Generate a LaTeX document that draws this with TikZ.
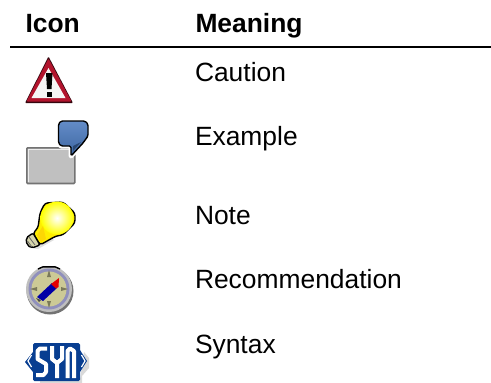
\documentclass[tikz,border=0pt]{standalone}
\usepackage{fontspec}
\setmainfont{Liberation Sans}
\definecolor{cautionred}{RGB}{178,20,45}
\definecolor{bubbleblue}{RGB}{72,120,190}
\definecolor{boxgray}{RGB}{192,192,192}
\definecolor{synblue}{RGB}{8,62,145}
\definecolor{compassface}{RGB}{204,202,150}
\tikzset{
  every node/.style={inner sep=0pt,outer sep=0pt},
  headtext/.style={anchor=base west,font=\fontsize{26.4}{30}\selectfont\bfseries},
  bodytext/.style={anchor=base west,font=\fontsize{26.4}{30}\selectfont},
  synout/.style={draw=synblue,line width=8.4pt,line join=miter,line cap=butt},
  synletter/.style={draw=white,line width=4pt,line join=round,line cap=butt}
}
\newcommand{\synS}{(47,348.5) -- (40,348.5) -- (37.5,351) -- (37.5,359) -- (46,364) -- (46,372) -- (43.5,375) -- (36,375)}
\newcommand{\synY}{(52,346) -- (52,359) -- (57,363) -- (57,378) (62,346) -- (62,359) -- (57,363)}
\newcommand{\synN}{(67.5,378) -- (67.5,351) -- (70,348.5) -- (74,351) -- (74,378)}
\begin{document}
\begin{tikzpicture}[x=1pt,y=-1pt]
\useasboundingbox (0,0) rectangle (491,383);
\fill[white] (0,0) rectangle (491,383);
\node[headtext] (hicon) at (25.5,32) {Icon};
\node[headtext] (hmean) at (195.5,32) {Meaning};
\draw[line width=2pt] (10,47) -- (491,47);
\node[bodytext] (t1) at (195,81) {Caution};
\node[bodytext] (t2) at (195,145) {Example};
\node[bodytext] (t3) at (195,224) {Note};
\node[bodytext] (t4) at (195,288) {Recommendation};
\node[bodytext] (t5) at (195,353) {Syntax};
% caution
\fill[black!70!cautionred,rounded corners=1pt] (48.5,56.5) -- (73,103) -- (25,103) -- cycle;
\fill[cautionred,rounded corners=1pt] (48.5,58.5) -- (71.5,101.5) -- (26.5,101.5) -- cycle;
\fill[white!92!gray] (48.5,68) -- (65.5,98) -- (31.5,98) -- cycle;
\fill[black] (46,73) -- (52.5,73) -- (51.5,89) -- (47,89) -- cycle;
\fill[black] (46.5,92) rectangle (52,97);
% example
\draw[line width=1.6pt,draw=black!55,fill=boxgray,rounded corners=1pt] (26.8,147.8) rectangle (74.8,183.5);
\draw[line width=.8pt,draw=white!85!gray] (28.5,182) -- (28.5,149.5) -- (73,149.5);
\path[draw=white,fill=white,line width=5pt,line join=round] (61,121) -- (85,121) -- (88,124) -- (88,136) -- (83,143) -- (71,156) -- (71,146) -- (61,146) -- (58.5,143) -- (58.5,124) -- cycle;
\draw[black,line width=1.4pt,top color=bubbleblue!85!white,bottom color=bubbleblue!85!black,rounded corners=1.5pt] (61,121) -- (85,121) -- (88,124) -- (88,136) -- (83,143) -- (71,156) -- (71,146) -- (61,146) -- (58.5,143) -- (58.5,124) -- cycle;
\fill[bubbleblue!60!black] (81,142) -- (73,151) -- (73,146) -- cycle;
% note
\fill[black!12] (30,248) -- (52,238) -- (54,240) -- (38,249) -- cycle;
\draw[black,line width=1.4pt,fill=yellow!95!orange,rounded corners=3pt] (45,203) -- (63,202) -- (75,213) -- (75,223) -- (63,235) -- (56,236) -- (40,245) -- (33,233) -- (38,228) -- (40,213) -- cycle;
\shade[inner color=white,outer color=yellow] (57,218) circle (16.5);
\fill[yellow!75!orange] (37,235) -- (43,226) -- (46,239) -- (41,242) -- cycle;
\draw[black,line width=1.4pt,fill=compassface!80!white,rounded corners=2pt] (33,233) -- (40,245) -- (32,248) -- (27,245) -- (26,238) -- cycle;
\draw[black!60,line width=.8pt] (29,237) -- (35,245) (27.5,241) -- (32,247);
% recommendation
\fill[black!55] (50,291) circle (23.5);
\fill[black!25] (49,289) circle (23);
\draw[black,line width=1.4pt,line join=round] (38,269) -- (43,266.8) -- (55,266.8) -- (60,269);
\fill[blue!25!gray!70] (49,289) circle (20.5);
\fill[compassface] (49,289) circle (17.5);
\fill[compassface!60!black] (49,270) -- (51,277) -- (47,277) -- cycle
  (49,308) -- (51,301) -- (47,301) -- cycle
  (30,289) -- (37,291) -- (37,287) -- cycle
  (68,289) -- (61,291) -- (61,287) -- cycle;
\fill[blue!65!black] (37,297) -- (52,283) -- (57,288) -- (43,301) -- cycle;
\fill[red!90!black] (51,284) -- (59,278) -- (58.5,287) -- (56,288.5) -- cycle;
\fill[black!70] (36,298) -- (41,300) -- (39,302) -- cycle;
% syntax
\fill[black!15] (84,352) -- (89,358) -- (89,368) -- (82,376) -- (82,383) -- (40,383) -- (40,380) -- (80,380) -- cycle;
\fill[synblue] (33,352) -- (33,372) -- (25,362) -- cycle;
\fill[synblue] (80,350) -- (87,361) -- (80,372) -- cycle;
\fill[synblue,rounded corners=1.5pt] (33,343) -- (80,343) -- (80,381) -- (33,381) -- cycle;
\draw[white,line width=1.2pt] (31.5,355) -- (28,361) -- (31.5,367) (81.5,355) -- (85,361) -- (81.5,367);
\draw[synletter] \synS;
\draw[synletter] \synY;
\draw[synletter] \synN;
\end{tikzpicture}
\end{document}
